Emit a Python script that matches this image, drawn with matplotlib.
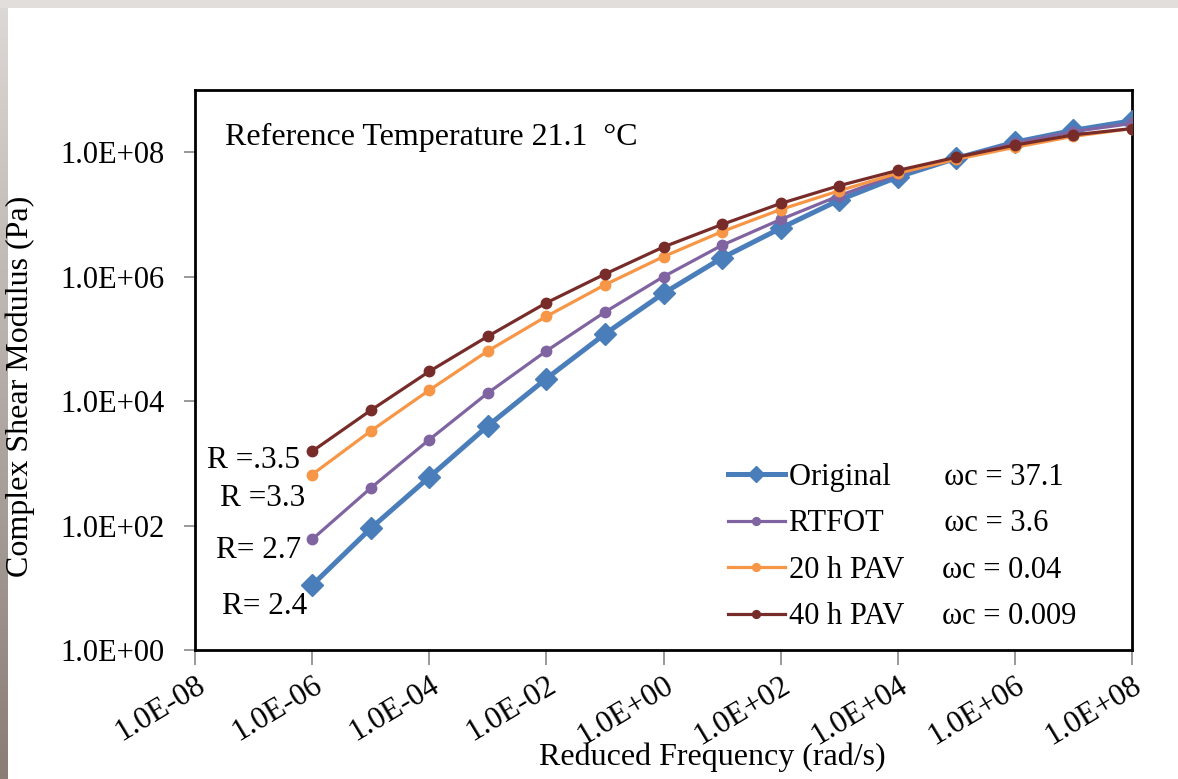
import numpy as np
import matplotlib
matplotlib.use("Agg")
import matplotlib.pyplot as plt
from matplotlib.patches import Rectangle
from matplotlib.colors import LinearSegmentedColormap

plt.rcParams['font.family'] = ['Liberation Serif', 'DejaVu Serif']

freq = [1e-6, 1e-5, 1e-4, 1e-3, 1e-2, 1e-1, 1e0, 1e1, 1e2, 1e3, 1e4, 1e5, 1e6, 1e7, 1e8]
original = [11, 90, 600, 4000, 2.3e4, 1.2e5, 5.4e5, 2.0e6, 6.0e6, 1.7e7, 4.0e7, 8.0e7, 1.45e8, 2.25e8, 3.2e8]
rtfot = [60, 400, 2400, 1.35e4, 6.4e4, 2.7e5, 1.0e6, 3.2e6, 8.3e6, 2.0e7, 4.4e7, 8.0e7, 1.4e8, 2.15e8, 2.9e8]
pav20 = [660, 3300, 1.5e4, 6.4e4, 2.3e5, 7.4e5, 2.1e6, 5.3e6, 1.2e7, 2.4e7, 4.6e7, 7.7e7, 1.2e8, 1.8e8, 2.4e8]
pav40 = [1560, 7100, 3.0e4, 1.1e5, 3.8e5, 1.1e6, 3.0e6, 6.9e6, 1.5e7, 2.9e7, 5.1e7, 8.3e7, 1.3e8, 1.9e8, 2.4e8]

labels = ["Original       \u03c9c = 37.1",
          "RTFOT        \u03c9c = 3.6",
          "20 h PAV     \u03c9c = 0.04",
          "40 h PAV     \u03c9c = 0.009"]
colors = ["#4a7ebb", "#8064a2", "#f79646", "#772c2a"]

xticks = [1e-8, 1e-6, 1e-4, 1e-2, 1e0, 1e2, 1e4, 1e6, 1e8]
xticklabels = ["1.0E-08", "1.0E-06", "1.0E-04", "1.0E-02", "1.0E+00",
               "1.0E+02", "1.0E+04", "1.0E+06", "1.0E+08"]
yticks = [1e0, 1e2, 1e4, 1e6, 1e8]
yticklabels = ["1.0E+00", "1.0E+02", "1.0E+04", "1.0E+06", "1.0E+08"]

r_labels = ["R =.3.5", "R =3.3", "R= 2.7", "R= 2.4"]

W, H = 1178, 779
fig = plt.figure(figsize=(W / 100, H / 100), dpi=100)
fig.patch.set_facecolor("white")

# background frame: top strip and left gradient strip
fig.patches.append(Rectangle((0, 1 - 8 / H), 1, 8 / H, transform=fig.transFigure,
                             facecolor="#e1dedb", edgecolor="none", zorder=0))
gax = fig.add_axes([0, 0, 8 / W, 1 - 8 / H])
grad = np.linspace(0, 1, 256).reshape(-1, 1)
cm = LinearSegmentedColormap.from_list("g", ["#dcd8d5", "#8a7d76"])
gax.imshow(grad, aspect="auto", cmap=cm, origin="upper")
gax.axis("off")

ax = fig.add_axes([195 / W, 1 - 650 / H, (1132 - 195) / W, (650 - 90) / H])
ax.set_xscale("log")
ax.set_yscale("log")

ax.plot(freq, original, color=colors[0], lw=3.6, marker="D", ms=11, label=labels[0], zorder=3)
ax.plot(freq, rtfot, color=colors[1], lw=2.3, marker="o", ms=7.5, label=labels[1], zorder=4)
ax.plot(freq, pav20, color=colors[2], lw=2.3, marker="o", ms=7.5, label=labels[2], zorder=5)
ax.plot(freq, pav40, color=colors[3], lw=2.3, marker="o", ms=7.5, label=labels[3], zorder=6)

ax.set_xlim(1e-8, 1e8)
ax.set_ylim(1e0, 1e9)
ax.set_xticks(xticks)
ax.set_xticklabels(xticklabels, rotation=31, ha="right", va="top", rotation_mode="anchor")
ax.set_yticks(yticks)
ax.set_yticklabels(yticklabels)
ax.minorticks_off()
ax.tick_params(axis="both", labelsize=22, color="#888888", width=1.2)
ax.tick_params(axis="x", length=11, pad=4, labelsize=22.5)
ax.tick_params(axis="y", length=8, pad=14)
for s in ax.spines.values():
    s.set_linewidth(2)
    s.set_color("black")

ax.set_ylabel("Complex Shear Modulus (Pa)", fontsize=23)
ax.yaxis.set_label_coords((35 - 195) / (1132 - 195), (650 - 386) / 560)
ax.set_xlabel("Reduced Frequency (rad/s)", fontsize=23)
ax.xaxis.set_label_coords((712 - 195) / (1132 - 195), (650 - 757) / 560)
ax.xaxis.label.set_va("center")

ax.text((225 - 195) / 937, (650 - 137) / 560, "Reference Temperature 21.1  \u00b0C",
        transform=ax.transAxes, fontsize=23, ha="left", va="center")

r_pos = [(207, 461), (220, 499), (216, 550), (222, 606)]
for (px, py), t in zip(r_pos, r_labels):
    ax.text((px - 195) / 937, (650 - py) / 560, t, transform=ax.transAxes,
            fontsize=22.5, ha="left", va="center")

leg = ax.legend(loc="upper left", bbox_to_anchor=((728 - 195) / 937, (650 - 463) / 560),
                frameon=False, fontsize=22, handlelength=1.85, handletextpad=0.15,
                labelspacing=0.57, borderpad=0, borderaxespad=0, markerscale=0.75)

fig.savefig("out.png", dpi=100)
